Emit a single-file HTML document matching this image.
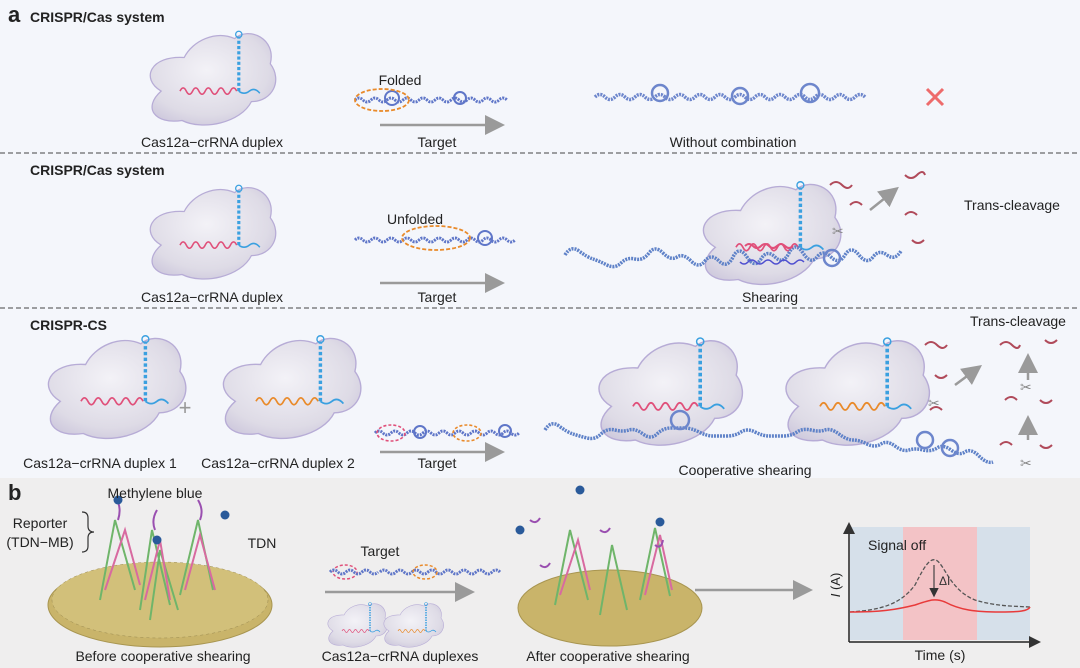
<!DOCTYPE html>
<html><head><meta charset="utf-8"><style>
html,body{margin:0;padding:0;width:1080px;height:668px;overflow:hidden;background:#fff}
svg{display:block;font-family:"Liberation Sans",sans-serif}
</style></head><body>
<svg width="1080" height="668" viewBox="0 0 1080 668" xmlns="http://www.w3.org/2000/svg">
<defs>
<radialGradient id="bg" cx="0.45" cy="0.4" r="0.7"><stop offset="0" stop-color="#f3f2f7"/><stop offset="0.7" stop-color="#dedbe6"/><stop offset="1" stop-color="#c9c3da"/></radialGradient>
<marker id="ah" markerWidth="8" markerHeight="8" refX="6" refY="4" orient="auto"><path d="M0,0 L8,4 L0,8 Z" fill="#9a9a9a"/></marker>
<marker id="ak" markerWidth="8" markerHeight="8" refX="6" refY="4" orient="auto"><path d="M0,0 L8,4 L0,8 Z" fill="#333"/></marker>
<g id="blob"><path d="M22,62 C2,50 12,28 44,30 C52,14 74,4 92,12 C106,0 132,12 126,36 C138,52 128,72 108,72 C98,92 62,100 42,90 C16,94 4,78 22,62 Z" fill="url(#bg)" stroke="#b7acd6" stroke-width="1.2"/></g>
<g id="rna"><path d="M40,62 q3,-6 6,0 t6,0 t6,0 t6,0 t6,0 t6,0 t6,0 t6,0 t6,0" fill="none" stroke="#e0507a" stroke-width="1.5"/><path d="M96,62 L96,10" stroke="#3aa0e0" stroke-width="3" stroke-dasharray="3 2" fill="none"/><circle cx="96" cy="8" r="3" fill="none" stroke="#3aa0e0" stroke-width="1.2"/><path d="M96,62 q5,4 10,0 t10,2" fill="none" stroke="#3aa0e0" stroke-width="1.5"/></g>
<g id="rnao"><path d="M40,62 q3,-6 6,0 t6,0 t6,0 t6,0 t6,0 t6,0 t6,0 t6,0 t6,0" fill="none" stroke="#e98a2a" stroke-width="1.5"/><path d="M96,62 L96,10" stroke="#3aa0e0" stroke-width="3" stroke-dasharray="3 2" fill="none"/><circle cx="96" cy="8" r="3" fill="none" stroke="#3aa0e0" stroke-width="1.2"/><path d="M96,62 q5,4 10,0 t10,2" fill="none" stroke="#3aa0e0" stroke-width="1.5"/></g>
</defs>
<rect x="0" y="0" width="1080" height="478" fill="#f4f6fb"/>
<rect x="0" y="478" width="1080" height="190" fill="#efeeee"/>
<line x1="0" y1="153" x2="1080" y2="153" stroke="#444" stroke-dasharray="5 3"/>
<line x1="0" y1="308" x2="1080" y2="308" stroke="#444" stroke-dasharray="5 3"/>
<!-- row1 -->
<g transform="translate(138,26) scale(1.05)"><use href="#blob"/><use href="#rna"/></g>
<path d="M355,100 q4,-4 8,0 t8,0 t8,0 t8,0 t8,0 t8,0 t8,0 t8,0 t8,0 t8,0 t8,0 t8,0 t8,0 t8,0 t8,0 t8,0 t8,0 t8,0 t8,0" fill="none" stroke="#5f76c8" stroke-width="3" stroke-dasharray="2 1"/>
<circle cx="392" cy="98" r="7" fill="none" stroke="#5f76c8" stroke-width="2"/><circle cx="460" cy="98" r="6" fill="none" stroke="#5f76c8" stroke-width="2"/>
<ellipse cx="382" cy="100" rx="27" ry="11" fill="none" stroke="#e98a2a" stroke-width="1.8" stroke-dasharray="4 2"/>
<line x1="380" y1="125" x2="500" y2="125" stroke="#9a9a9a" stroke-width="2.5" marker-end="url(#ah)"/>
<path d="M595,97 q5,-5 10,0 t10,0 t10,0 t10,0 t10,0 t10,0 t10,0 t10,0 t10,0 t10,0 t10,0 t10,0 t10,0 t10,0 t10,0 t10,0 t10,0 t10,0 t10,0 t10,0 t10,0 t10,0 t10,0 t10,0 t10,0 t10,0 t10,0" fill="none" stroke="#6d86cc" stroke-width="3.5" stroke-dasharray="2 1"/>
<circle cx="660" cy="93" r="8" fill="none" stroke="#6d86cc" stroke-width="2.5"/><circle cx="740" cy="96" r="8" fill="none" stroke="#6d86cc" stroke-width="2.5"/><circle cx="810" cy="93" r="9" fill="none" stroke="#6d86cc" stroke-width="2.5"/>
<path d="M927,89 L943,105 M943,89 L927,105" stroke="#ee6b6b" stroke-width="3"/>
<!-- row2 -->
<g transform="translate(138,180) scale(1.05)"><use href="#blob"/><use href="#rna"/></g>
<path d="M355,240 q4,-4 8,0 t8,0 t8,0 t8,0 t8,0 t8,0 t8,0 t8,0 t8,0 t8,0 t8,0 t8,0 t8,0 t8,0 t8,0 t8,0 t8,0 t8,0 t8,0 t8,0" fill="none" stroke="#5f76c8" stroke-width="3" stroke-dasharray="2 1"/>
<circle cx="485" cy="238" r="7" fill="none" stroke="#5f76c8" stroke-width="2"/>
<ellipse cx="436" cy="238" rx="34" ry="12" fill="none" stroke="#e98a2a" stroke-width="1.8" stroke-dasharray="4 2"/>
<line x1="380" y1="283" x2="500" y2="283" stroke="#9a9a9a" stroke-width="2.5" marker-end="url(#ah)"/>
<g transform="translate(690,176) scale(1.15)"><use href="#blob"/><use href="#rna"/></g>
<path d="M565,255 q6,-10 14,-4 t14,8 t14,6 t14,-2 t14,-4 t14,-6 t14,0 t14,4 t14,4 t14,0 t14,0 t14,-4 t14,0 t14,2 t14,-2 t14,-4 t14,0 t14,4 t14,0 t14,-2 t14,0 t14,2 t14,-2 t14,-4" fill="none" stroke="#5f82c8" stroke-width="3.5" stroke-dasharray="2 1"/>
<path d="M740,262 q4,4 8,0 t8,0 t8,0 t8,0 t8,0 t8,0 t8,0 t8,0" fill="none" stroke="#5050d0" stroke-width="1.5"/>
<path d="M745,246 q4,-4 8,0 t8,0 t8,0 t8,0 t8,0 t8,0" fill="none" stroke="#e0507a" stroke-width="2"/>
<circle cx="832" cy="258" r="8" fill="none" stroke="#6d86cc" stroke-width="2.5"/>
<g stroke="#b04a5a" stroke-width="2" fill="none"><path d="M830,185 q6,-6 12,0 t10,0"/><path d="M850,205 q6,-6 12,0"/><path d="M905,175 q6,6 12,0 t8,0"/><path d="M905,215 q6,-6 12,0"/><path d="M912,240 q6,6 12,0"/></g>
<line x1="870" y1="210" x2="895" y2="190" stroke="#9a9a9a" stroke-width="2.5" marker-end="url(#ah)"/>
<text x="832" y="236" font-size="14" fill="#888">✂</text>
<!-- row3 -->
<g transform="translate(35,330) scale(1.15)"><use href="#blob"/><use href="#rna"/></g>
<g transform="translate(210,330) scale(1.15)"><use href="#blob"/><use href="#rnao"/></g>
<text x="185" y="415" font-size="22" fill="#999" text-anchor="middle">+</text>
<path d="M375,433 q4,-4 8,0 t8,0 t8,0 t8,0 t8,0 t8,0 t8,0 t8,0 t8,0 t8,0 t8,0 t8,0 t8,0 t8,0 t8,0 t8,0 t8,0 t8,0" fill="none" stroke="#5f76c8" stroke-width="3" stroke-dasharray="2 1"/>
<circle cx="420" cy="432" r="6" fill="none" stroke="#5f76c8" stroke-width="2"/><circle cx="505" cy="431" r="6" fill="none" stroke="#5f76c8" stroke-width="2"/>
<ellipse cx="391" cy="433" rx="14" ry="8" fill="none" stroke="#e0507a" stroke-width="1.6" stroke-dasharray="3 2"/>
<ellipse cx="467" cy="433" rx="14" ry="8" fill="none" stroke="#e98a2a" stroke-width="1.6" stroke-dasharray="3 2"/>
<line x1="380" y1="452" x2="500" y2="452" stroke="#9a9a9a" stroke-width="2.5" marker-end="url(#ah)"/>
<g transform="translate(585,332) scale(1.2)"><use href="#blob"/><use href="#rna"/></g>
<g transform="translate(772,332) scale(1.2)"><use href="#blob"/><use href="#rnao"/></g>
<path d="M545,430 q6,-10 14,-4 t14,8 t14,4 t14,-4 t14,-4 t14,0 t14,4 t14,0 t14,-6 t14,0 t14,4 t14,4 t14,0 t14,-4 t14,0 t14,4 t14,0 t14,-4 t14,-2 t14,0 t14,4 t14,6 t14,4 t14,0 t14,2 t14,4 t14,0 t14,-2 t14,2 t14,2 t14,4 t14,6" fill="none" stroke="#5f82c8" stroke-width="3.5" stroke-dasharray="2 1"/>
<circle cx="680" cy="420" r="9" fill="none" stroke="#6d86cc" stroke-width="2.5"/><circle cx="925" cy="440" r="8" fill="none" stroke="#6d86cc" stroke-width="2.5"/><circle cx="950" cy="448" r="8" fill="none" stroke="#6d86cc" stroke-width="2.5"/>
<g stroke="#b04a5a" stroke-width="2" fill="none"><path d="M925,345 q6,-6 12,0 t10,0"/><path d="M935,375 q6,6 12,0"/><path d="M930,410 q6,-6 12,0"/><path d="M1000,345 q6,-6 12,0 t8,0"/><path d="M1045,340 q6,6 12,0"/><path d="M1005,400 q6,-6 12,0"/><path d="M1040,400 q6,6 12,0"/><path d="M1000,445 q6,-6 12,0"/><path d="M1040,445 q6,6 12,0"/></g>
<line x1="955" y1="385" x2="978" y2="368" stroke="#9a9a9a" stroke-width="2.5" marker-end="url(#ah)"/>
<line x1="1028" y1="380" x2="1028" y2="358" stroke="#9a9a9a" stroke-width="2.5" marker-end="url(#ah)"/>
<line x1="1028" y1="440" x2="1028" y2="420" stroke="#9a9a9a" stroke-width="2.5" marker-end="url(#ah)"/>
<g font-size="14" fill="#888"><text x="928" y="408">✂</text><text x="1020" y="392">✂</text><text x="1020" y="468">✂</text></g>
<!-- panel b -->
<path d="M32,512 q6,0 6,6 v8 q0,6 6,6 q-6,0 -6,6 v8 q0,6 -6,6" fill="none" stroke="#333" stroke-width="1.2" transform="translate(50,0)"/>
<ellipse cx="160" cy="605" rx="112" ry="42" fill="#c9b46a" stroke="#a89550"/>
<ellipse cx="160" cy="600" rx="108" ry="38" fill="#d2c07a" stroke="#9a8a50" stroke-width="0.5" stroke-dasharray="3 3"/>
<g stroke-width="2" fill="none">
<path d="M100,600 l15,-80 l20,70 M140,610 l12,-80 l18,75 M180,595 l18,-75 l15,70 M150,620 l10,-70 l18,60" stroke="#6fb56a"/>
<path d="M105,590 l20,-60 l15,55 M145,600 l15,-60 l10,60 M185,590 l15,-55 l15,55" stroke="#d86aa0"/>
<path d="M118,520 q4,-12 -2,-22 M155,530 q-4,-10 2,-20 M200,520 q4,-10 -2,-20" stroke="#9a4fb0"/>
</g>
<circle cx="118" cy="500" r="4.5" fill="#2a5a9a"/><circle cx="157" cy="540" r="4.5" fill="#2a5a9a"/><circle cx="225" cy="515" r="4.5" fill="#2a5a9a"/>
<path d="M380,572 q4,-4 8,0 t8,0 t8,0 t8,0 t8,0 t8,0 t8,0 t8,0 t8,0 t8,0 t8,0 t8,0 t8,0 t8,0 t8,0" fill="none" stroke="#5f76c8" stroke-width="3" stroke-dasharray="2 1"/>
<ellipse cx="345" cy="572" rx="12" ry="7" fill="none" stroke="#e0507a" stroke-width="1.5" stroke-dasharray="3 2"/>
<ellipse cx="425" cy="572" rx="12" ry="7" fill="none" stroke="#e98a2a" stroke-width="1.5" stroke-dasharray="3 2"/>
<path d="M330,572 q4,-4 8,0 t8,0 t8,0 t8,0 t8,0 t8,0" fill="none" stroke="#5f76c8" stroke-width="3" stroke-dasharray="2 1"/>
<line x1="325" y1="592" x2="470" y2="592" stroke="#9a9a9a" stroke-width="2.5" marker-end="url(#ah)"/>
<g transform="translate(322,600) scale(0.5)"><use href="#blob"/><use href="#rna"/></g>
<g transform="translate(378,600) scale(0.5)"><use href="#blob"/><use href="#rnao"/></g>
<ellipse cx="610" cy="608" rx="92" ry="38" fill="#c9b46a" stroke="#a89550"/>
<g stroke-width="2" fill="none">
<path d="M555,605 l15,-75 l18,70 M600,615 l12,-70 l15,65 M640,600 l15,-72 l15,68" stroke="#6fb56a"/>
<path d="M560,595 l18,-55 l12,50 M645,595 l15,-60 l12,55" stroke="#d86aa0"/>
<path d="M530,520 q6,5 10,-2 M600,530 q6,5 10,-2 M655,545 q6,5 8,-5 M540,565 q6,5 10,-2" stroke="#9a4fb0"/>
</g>
<circle cx="580" cy="490" r="4.5" fill="#2a5a9a"/><circle cx="520" cy="530" r="4.5" fill="#2a5a9a"/><circle cx="660" cy="522" r="4.5" fill="#2a5a9a"/>
<line x1="695" y1="590" x2="808" y2="590" stroke="#9a9a9a" stroke-width="2.5" marker-end="url(#ah)"/>
<!-- graph -->
<rect x="850" y="527" width="53" height="113" fill="#d6e0ea"/>
<rect x="903" y="527" width="74" height="113" fill="#f3c3c6"/>
<rect x="977" y="527" width="53" height="113" fill="#d6e0ea"/>
<line x1="849" y1="642" x2="1038" y2="642" stroke="#222" stroke-width="1.5" marker-end="url(#ak)"/>
<line x1="849" y1="642" x2="849" y2="525" stroke="#222" stroke-width="1.5" marker-end="url(#ak)"/>
<path d="M850,612 C880,610 900,605 915,585 C925,565 930,558 936,560 C945,565 950,590 975,600 C995,606 1010,606 1030,607" fill="none" stroke="#555" stroke-width="1.3" stroke-dasharray="4 2"/>
<path d="M850,612 C880,612 895,610 915,605 C930,600 935,598 945,602 C960,610 975,612 1000,612 C1020,612 1028,611 1030,607" fill="none" stroke="#e83a3a" stroke-width="1.5"/>
<line x1="934" y1="565" x2="934" y2="595" stroke="#444" stroke-width="1.2" marker-end="url(#ak)"/>
<text x="939" y="585" font-size="12" fill="#333">ΔI</text>
<text x="868" y="550" font-size="14" fill="#222">Signal off</text>
<text transform="translate(840,585) rotate(-90)" font-size="13" fill="#222" text-anchor="middle"><tspan font-style="italic">I</tspan> (A)</text>
<!-- text on top -->
<g font-weight="bold" fill="#222" font-size="14">
<text x="8" y="22" font-size="22">a</text><text x="30" y="22">CRISPR/Cas system</text>
<text x="30" y="175">CRISPR/Cas system</text>
<text x="30" y="330">CRISPR-CS</text>
<text x="8" y="500" font-size="22">b</text>
</g>
<g font-size="14" fill="#222" text-anchor="middle">
<text x="212" y="147">Cas12a−crRNA duplex</text>
<text x="437" y="147">Target</text>
<text x="733" y="147">Without combination</text>
<text x="400" y="85">Folded</text>
<text x="212" y="302">Cas12a−crRNA duplex</text>
<text x="437" y="302">Target</text>
<text x="770" y="302">Shearing</text>
<text x="415" y="224">Unfolded</text>
<text x="1012" y="210">Trans-cleavage</text>
<text x="1018" y="326">Trans-cleavage</text>
<text x="100" y="468">Cas12a−crRNA duplex 1</text>
<text x="278" y="468">Cas12a−crRNA duplex 2</text>
<text x="437" y="468">Target</text>
<text x="745" y="475">Cooperative shearing</text>
<text x="155" y="498">Methylene blue</text>
<text x="40" y="528">Reporter</text>
<text x="40" y="547">(TDN−MB)</text>
<text x="262" y="548">TDN</text>
<text x="380" y="556">Target</text>
<text x="163" y="661">Before cooperative shearing</text>
<text x="400" y="661">Cas12a−crRNA duplexes</text>
<text x="608" y="661">After cooperative shearing</text>
<text x="940" y="660">Time (s)</text>
</g>
</svg>
</body></html>
